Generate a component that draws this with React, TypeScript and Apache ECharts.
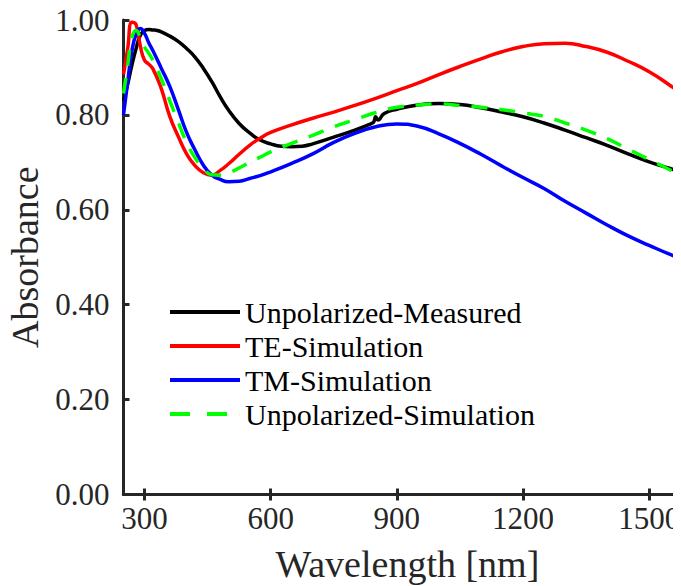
import React, { useEffect, useRef } from "react";
import * as echarts from "echarts";

const simWavelength = [250,260,270,280,290,300,310,320,340,360,380,400,420,440,460,480,500,525,550,575,600,650,700,750,800,850,900,950,1000,1050,1100,1150,1200,1250,1300,1350,1400,1450,1500,1550,1600];
const teSim = [0.885,0.94,0.995,0.99,0.945,0.915,0.907,0.897,0.855,0.797,0.755,0.718,0.693,0.678,0.673,0.683,0.697,0.717,0.736,0.751,0.763,0.779,0.793,0.806,0.82,0.835,0.851,0.867,0.885,0.902,0.918,0.933,0.944,0.95,0.951,0.944,0.932,0.913,0.891,0.862,0.83];
const tmSim = [0.80,0.87,0.935,0.97,0.982,0.972,0.952,0.935,0.898,0.86,0.812,0.763,0.726,0.694,0.673,0.664,0.659,0.66,0.666,0.672,0.68,0.698,0.718,0.742,0.761,0.775,0.781,0.776,0.76,0.74,0.717,0.692,0.668,0.645,0.618,0.593,0.568,0.545,0.525,0.506,0.49];
const unpolSim = [0.845,0.905,0.963,0.978,0.963,0.943,0.93,0.915,0.876,0.83,0.785,0.742,0.71,0.687,0.674,0.673,0.678,0.688,0.70,0.711,0.722,0.74,0.757,0.775,0.79,0.805,0.816,0.821,0.823,0.82,0.816,0.811,0.804,0.797,0.783,0.768,0.75,0.728,0.706,0.684,0.66];

const measWavelength = [250,260,270,280,290,300,310,320,330,340,360,380,400,420,440,460,480,500,525,550,575,600,625,650,675,700,750,800,840,845,850,855,870,900,950,1000,1050,1100,1150,1200,1250,1300,1350,1400,1450,1500,1550,1600];
const unpolMeas = [0.83,0.865,0.905,0.94,0.968,0.978,0.98,0.979,0.978,0.975,0.966,0.955,0.94,0.922,0.898,0.87,0.838,0.81,0.782,0.762,0.747,0.739,0.734,0.733,0.734,0.739,0.753,0.768,0.782,0.785,0.796,0.789,0.803,0.812,0.821,0.824,0.822,0.815,0.806,0.796,0.783,0.768,0.752,0.736,0.718,0.701,0.687,0.672];

const xTicks = [300, 600, 900, 1200, 1500];
const seriesNames = ["Unpolarized-Measured", "TE-Simulation", "TM-Simulation", "Unpolarized-Simulation"];

const FONT = "Liberation Serif";
const AXIS = "#262626";

const SOLID_ICON = "path://M0,0h70v4h-70z";
const DASH_ICON = "path://M0,0h20v4h-20zM37,0h20v4h-20zM69.9,0h0.1v4h-0.1z";

export default function App() {
  const ref = useRef<HTMLDivElement>(null);
  useEffect(() => {
    if (!ref.current) return;
    const chart = echarts.init(ref.current, null, { renderer: "svg" });
    const pairs = (xs: number[], ys: number[]) => xs.map((x, i) => [x, ys[i]]);
    const lineSeries = (name: string, data: number[][], color: string, type: any) => ({
      name,
      type: "line",
      data,
      showSymbol: false,
      symbol: "none",
      smooth: 0.5,
      lineStyle: { color, width: 3.5, type },
      itemStyle: { color },
    });
    chart.setOption({
      animation: false,
      grid: { left: 115.5, top: 12, width: 567.7, height: 474.5, outerBoundsMode: "none" },
      legend: {
        orient: "vertical",
        left: 157,
        top: 284,
        itemWidth: 70,
        itemHeight: 4,
        itemGap: 4,
        data: [
          { name: seriesNames[0], icon: SOLID_ICON },
          { name: seriesNames[1], icon: SOLID_ICON },
          { name: seriesNames[2], icon: SOLID_ICON },
          { name: seriesNames[3], icon: DASH_ICON },
        ],
        textStyle: { fontFamily: FONT, fontSize: 30, color: "#000" },
      },
      xAxis: [
        {
          type: "value",
          min: 250,
          max: 1600,
          position: "bottom",
          name: "Wavelength [nm]",
          nameLocation: "middle",
          nameGap: 50,
          nameTextStyle: { fontFamily: FONT, fontSize: 38, color: AXIS },
          axisLine: { show: true, lineStyle: { color: AXIS, width: 3 } },
          axisTick: { show: true, inside: true, length: 6, lineStyle: { color: AXIS, width: 3 }, customValues: xTicks },
          axisLabel: { show: true, margin: 8, fontFamily: FONT, fontSize: 31, color: AXIS, customValues: xTicks, formatter: (v: number) => String(v) },
          splitLine: { show: false },
        },
        {
          type: "value",
          min: 250,
          max: 1600,
          position: "top",
          axisLine: { show: true, lineStyle: { color: AXIS, width: 3 } },
          axisTick: { show: true, inside: true, length: 6, lineStyle: { color: AXIS, width: 3 }, customValues: xTicks },
          axisLabel: { show: false },
          splitLine: { show: false },
        },
      ],
      yAxis: [
        {
          type: "value",
          min: 0,
          max: 1,
          interval: 0.2,
          position: "left",
          name: "Absorbance",
          nameLocation: "middle",
          nameGap: 76,
          nameTextStyle: { fontFamily: FONT, fontSize: 38, color: AXIS },
          axisLine: { show: true, lineStyle: { color: AXIS, width: 3 } },
          axisTick: { show: true, inside: true, length: 6, lineStyle: { color: AXIS, width: 3 } },
          axisLabel: { margin: 14, fontFamily: FONT, fontSize: 31, color: AXIS, formatter: (v: number) => v.toFixed(2) },
          splitLine: { show: false },
        },
        {
          type: "value",
          min: 0,
          max: 1,
          interval: 0.2,
          position: "right",
          axisLine: { show: true, lineStyle: { color: AXIS, width: 3 } },
          axisTick: { show: true, inside: true, length: 6, lineStyle: { color: AXIS, width: 3 } },
          axisLabel: { show: false },
          splitLine: { show: false },
        },
      ],
      series: [
        lineSeries(seriesNames[0], pairs(measWavelength, unpolMeas), "#000000", "solid"),
        lineSeries(seriesNames[1], pairs(simWavelength, teSim), "#ff0000", "solid"),
        lineSeries(seriesNames[2], pairs(simWavelength, tmSim), "#0000ff", "solid"),
        lineSeries(seriesNames[3], pairs(simWavelength, unpolSim), "#00ff00", [16, 12]),
      ],
    });
    return () => chart.dispose();
  }, []);
  return <div ref={ref} style={{ width: 684, height: 578 }} />;
}
